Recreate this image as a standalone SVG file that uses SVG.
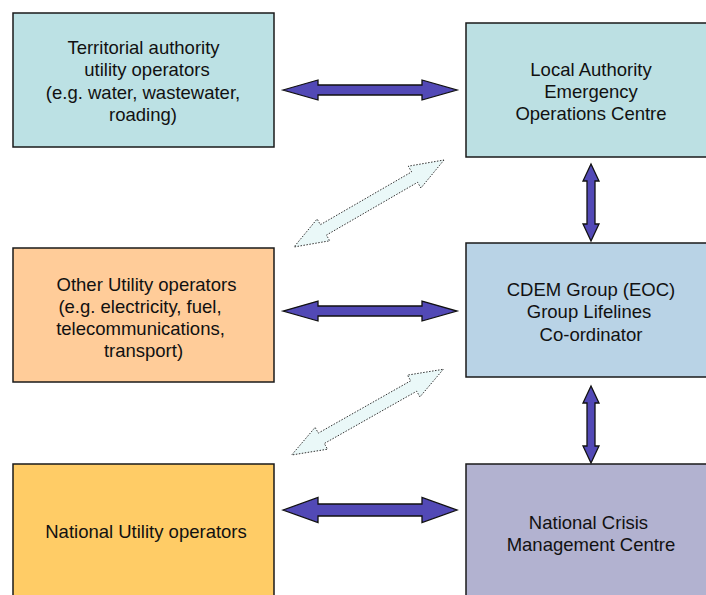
<svg xmlns="http://www.w3.org/2000/svg" width="706" height="595" viewBox="0 0 706 595">
<style>
.box{stroke:#1a1a1a;stroke-width:1.5}
.t{font-family:"Liberation Sans",Arial,sans-serif;font-size:18.5px;fill:#111;text-anchor:middle}
.solid{fill:#5249B6;stroke:#111;stroke-width:1.3;stroke-linejoin:miter}
.dot{fill:#EAF8F8;stroke:#333;stroke-width:1;stroke-dasharray:1.5 1.5}
</style>
<rect width="706" height="595" fill="#fff"/>
<g id="territorial">
<rect class="box" x="13" y="13" width="261" height="134" fill="#BCE1E4"/>
<text class="t" x="143.5" y="53.5">Territorial authority</text>
<text class="t" x="147" y="76">utility operators</text>
<text class="t" x="143" y="98.5">(e.g. water, wastewater,</text>
<text class="t" x="143" y="121">roading)</text>
</g>
<g id="local-eoc">
<rect class="box" x="466" y="23" width="252" height="134" fill="#BCE0E3"/>
<text class="t" x="591" y="75.5">Local Authority</text>
<text class="t" x="591" y="97.5">Emergency</text>
<text class="t" x="591" y="119.5">Operations Centre</text>
</g>
<g id="other-utility">
<rect class="box" x="13" y="248" width="261" height="134" fill="#FFCC99"/>
<text class="t" x="146.5" y="290.5">Other Utility operators</text>
<text class="t" x="140" y="312.5">(e.g. electricity, fuel,</text>
<text class="t" x="140.5" y="334.5">telecommunications,</text>
<text class="t" x="143.5" y="356.5">transport)</text>
</g>
<g id="cdem">
<rect class="box" x="466" y="243" width="252" height="134" fill="#B9D3E6"/>
<text class="t" x="591" y="295.5">CDEM Group (EOC)</text>
<text class="t" x="589" y="318">Group Lifelines</text>
<text class="t" x="591" y="340.5">Co-ordinator</text>
</g>
<g id="national-utility">
<rect class="box" x="13" y="464" width="261" height="140" fill="#FFCC66"/>
<text class="t" x="146" y="538">National Utility operators</text>
</g>
<g id="ncmc">
<rect class="box" x="466" y="464" width="252" height="140" fill="#B2B2D0"/>
<text class="t" x="588.5" y="528.5">National Crisis</text>
<text class="t" x="591" y="551">Management Centre</text>
</g>
<g id="connectors">
<polygon class="solid" points="283,90 318,80 318,85 422,85 422,80 457,90 422,100 422,95 318,95 318,100"/>
<polygon class="solid" points="283,311 318,301 318,306 422,306 422,301 457,311 422,321 422,316 318,316 318,321"/>
<polygon class="solid" points="283,510 318,497.5 318,504 422,504 422,497.5 457,510 422,522.5 422,516 318,516 318,522.5"/>
<polygon class="solid" points="591,164 599,181 595,181 595,224 599,224 591,241 583,224 587,224 587,181 583,181"/>
<polygon class="solid" points="591,386 599,403 595,403 595,446 599,446 591,463 583,446 587,446 587,403 583,403"/>
<polygon class="dot" points="444,160 420.9,188 417.6,182.3 326.4,235.1 329.7,240.8 294,247 317.1,219 320.4,224.7 411.6,171.9 408.3,166.2"/>
<polygon class="dot" points="443.3,369.3 419.9,396.9 416.7,391.2 324.3,443.5 327.5,449.2 291.7,455 315.1,427.4 318.3,433.1 410.7,380.8 407.5,375.1"/>
</g>
</svg>
